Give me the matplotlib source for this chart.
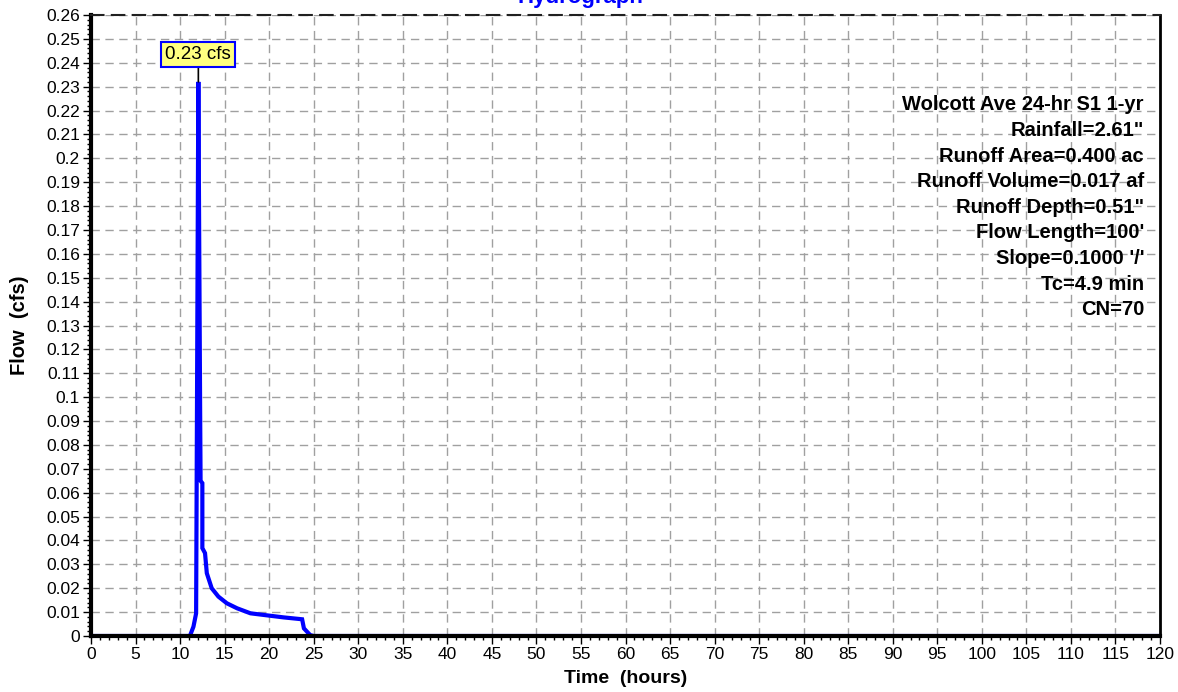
import matplotlib
matplotlib.use("Agg")
import matplotlib.pyplot as plt
from matplotlib.ticker import MultipleLocator, FuncFormatter

plt.rcParams['font.family'] = ['Liberation Sans', 'DejaVu Sans']

time_h = [0, 11.1, 11.5, 11.8, 12.05, 12.25, 12.3, 12.5, 12.5, 12.8, 13.0, 13.55,
          14.3, 15.25, 16.4, 17.9, 21.6, 23.7, 23.9, 24.6, 25.0, 120]
flow_cfs = [0, 0, 0.0039, 0.0095, 0.232, 0.095, 0.065, 0.064, 0.0368, 0.0347, 0.0263,
            0.020, 0.0165, 0.0137, 0.0116, 0.0095, 0.0078, 0.0070, 0.0032, 0.0004, 0, 0]
peak_label = "0.23 cfs"
info_lines = ["Wolcott Ave 24-hr S1 1-yr", "Rainfall=2.61\"", "Runoff Area=0.400 ac",
              "Runoff Volume=0.017 af", "Runoff Depth=0.51\"", "Flow Length=100'",
              "Slope=0.1000 '/'", "Tc=4.9 min", "CN=70"]

fig = plt.figure(figsize=(11.78, 6.92), dpi=100)
ax = fig.add_axes([91/1178, 1-636/692, (1160-91)/1178, (636-15)/692])

ax.plot(time_h, flow_cfs, color='#0000ff', lw=3.0, solid_joinstyle='miter', zorder=2)

ax.set_xlim(0, 120)
ax.set_ylim(0, 0.26)
ax.xaxis.set_major_locator(MultipleLocator(5))
ax.xaxis.set_minor_locator(MultipleLocator(1))
ax.yaxis.set_major_locator(MultipleLocator(0.01))
ax.yaxis.set_minor_locator(MultipleLocator(0.002))
ax.yaxis.set_major_formatter(FuncFormatter(lambda v, p: f"{round(v, 2):g}"))
ax.tick_params(axis='both', which='major', direction='out', length=6, width=1,
               labelsize=12.5, colors='black', pad=2)
ax.tick_params(axis='both', which='minor', direction='out', length=3, width=1)

ax.grid(True, which='major', color='#a0a0a0', linestyle=(0, (6, 4)), lw=1)

for s in ['left', 'bottom']:
    ax.spines[s].set_linewidth(3)
ax.spines['right'].set_linewidth(2)
ax.spines['top'].set_linewidth(1.5)
ax.spines['top'].set_linestyle((0, (6, 4)))
ax.spines['top'].set_color('#202020')

ax.set_xlabel("Time  (hours)", fontsize=14, fontweight='bold', labelpad=6)
ax.set_ylabel("Flow  (cfs)", fontsize=14.5, fontweight='bold', labelpad=12)

# peak annotation
pk = max(flow_cfs)
pt = time_h[flow_cfs.index(pk)]
ax.annotate(peak_label, xy=(pt, pk), xytext=(pt, 0.2435), ha='center', va='center',
            fontsize=13.5,
            bbox=dict(boxstyle='square,pad=0.22', fc='#ffff80', ec='#0000ff', lw=1.5),
            arrowprops=dict(arrowstyle='-', color='black', lw=1.2, shrinkA=0, shrinkB=0),
            zorder=5)

# info block
for i, line in enumerate(info_lines):
    ax.text(1144/1178, 1-(105+i*25.6)/692, line, transform=fig.transFigure,
            ha='right', va='center', fontsize=14.5, fontweight='bold')

fig.text(580/1178, 1-3/692, "Hydrograph", ha='center', va='baseline', color='#0000ff',
         fontsize=16, fontweight='bold')

fig.savefig("out.png", dpi=100)
